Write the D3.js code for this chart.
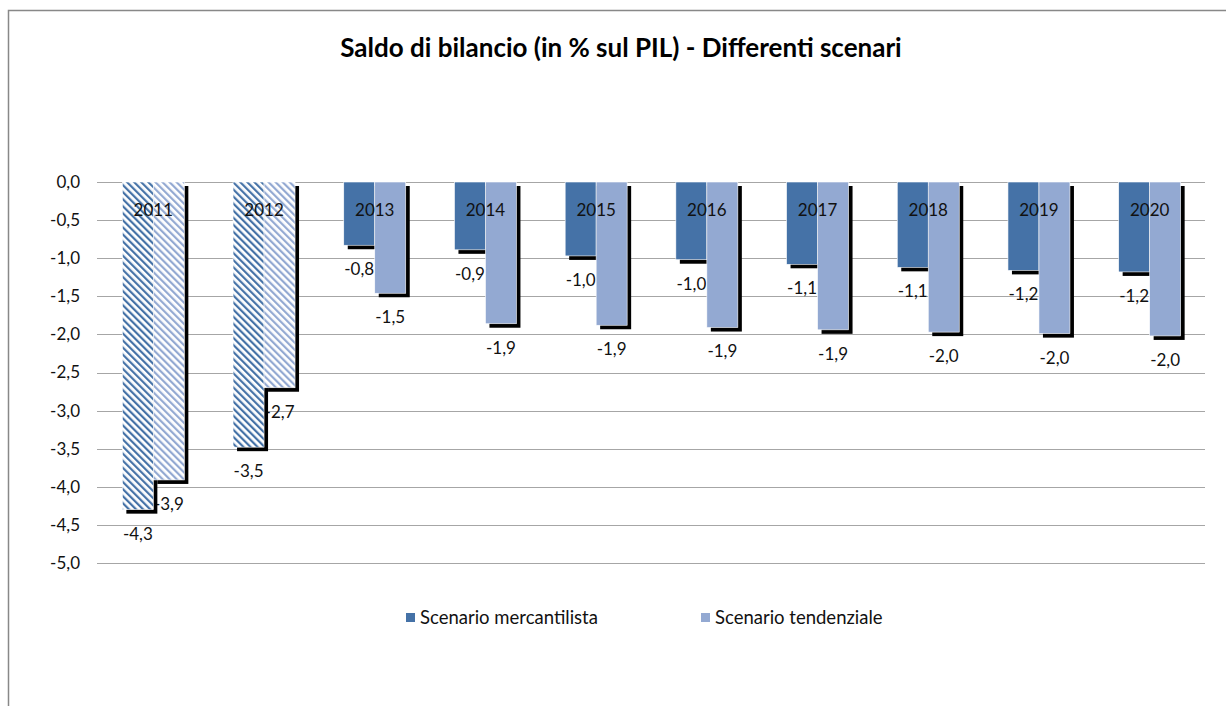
<!DOCTYPE html>
<html>
<head>
<meta charset="utf-8">
<script src="https://cdnjs.cloudflare.com/ajax/libs/d3/7.8.5/d3.min.js"></script>
<style>
  body { margin: 0; background: #fff; }
  svg { font-family: Lato, "Open Sans", sans-serif; }
</style>
</head>
<body>
<svg id="chart" width="1226" height="706"></svg>
<script>
const years = ['2011', '2012', '2013', '2014', '2015', '2016', '2017', '2018', '2019', '2020'];
const mercantilista = [-4.30, -3.48, -0.83, -0.89, -0.97, -1.02, -1.08, -1.12, -1.16, -1.18];
const tendenziale = [-3.91, -2.70, -1.46, -1.86, -1.88, -1.91, -1.94, -1.97, -1.99, -2.02];
const seriesNames = ['Scenario mercantilista', 'Scenario tendenziale'];
const hatchedYears = ['2011', '2012'];
const yTicks = [0, -0.5, -1, -1.5, -2, -2.5, -3, -3.5, -4, -4.5, -5];

const colors = ['#4572a7', '#93a9d2'];
const svg = d3.select('#chart');

// chart frame (only top and left edges are visible)
svg.append('path')
  .attr('d', 'M8.5,706 V10.5 H1226')
  .attr('fill', 'none')
  .attr('stroke', '#888')
  .attr('stroke-width', 1.5);

svg.append('text')
  .attr('x', 621)
  .attr('y', 57)
  .attr('text-anchor', 'middle')
  .attr('font-size', 26)
  .attr('font-weight', 'bold')
  .text('Saldo di bilancio (in % sul PIL) - Differenti scenari');

// hatch patterns for the first two years
const defs = svg.append('defs');
colors.forEach((c, i) => {
  const p = defs.append('pattern')
    .attr('id', 'hatch' + i)
    .attr('patternUnits', 'userSpaceOnUse')
    .attr('width', 5)
    .attr('height', 5)
    .attr('patternTransform', 'rotate(-45)');
  p.append('rect').attr('width', 5).attr('height', 5).attr('fill', '#fff');
  p.append('rect').attr('width', 2.2).attr('height', 5).attr('fill', c);
});

const x = d3.scaleBand()
  .domain(years)
  .range([98, 1205])
  .paddingInner(0.44)
  .paddingOuter(0.22);

const xSub = d3.scaleBand()
  .domain([0, 1])
  .range([0, x.bandwidth()]);

const y = d3.scaleLinear()
  .domain([-5, 0])
  .range([563, 182]);

// gridlines
svg.append('g')
  .selectAll('line')
  .data(yTicks)
  .join('line')
  .attr('x1', 97)
  .attr('x2', 1205)
  .attr('y1', d => Math.round(y(d)) + 0.5)
  .attr('y2', d => Math.round(y(d)) + 0.5)
  .attr('stroke', '#a6a6a6')
  .attr('stroke-width', 1);

const fmt = v => v.toFixed(1).replace('.', ',');

svg.append('g')
  .selectAll('text')
  .data(yTicks)
  .join('text')
  .attr('x', 80)
  .attr('y', d => y(d))
  .attr('dy', '0.35em')
  .attr('text-anchor', 'end')
  .attr('font-size', 17)
  .attr('fill', '#111')
  .text(d => fmt(d));

const seriesData = [mercantilista, tendenziale].map((vals, s) =>
  vals.map((v, i) => ({ year: years[i], value: v, s })));

// value labels
seriesData.forEach(data => {
  svg.append('g')
    .selectAll('text')
    .data(data)
    .join('text')
    .attr('x', d => x(d.year) + xSub(d.s) + xSub.bandwidth() / 2)
    .attr('y', d => y(d.value) + 24)
    .attr('dy', '0.35em')
    .attr('text-anchor', 'middle')
    .attr('font-size', 17)
    .attr('fill', '#111')
    .text(d => fmt(d.value));
});

// bars with a black drop shadow, series by series
seriesData.forEach((data, s) => {
  const g = svg.append('g');
  g.selectAll('rect.shadow')
    .data(data)
    .join('rect')
    .attr('class', 'shadow')
    .attr('x', d => x(d.year) + xSub(d.s) + 4)
    .attr('y', y(0) + 4)
    .attr('width', xSub.bandwidth())
    .attr('height', d => y(d.value) - y(0))
    .attr('fill', '#000');
  g.selectAll('rect.bar')
    .data(data)
    .join('rect')
    .attr('class', 'bar')
    .attr('x', d => x(d.year) + xSub(d.s))
    .attr('y', y(0))
    .attr('width', xSub.bandwidth())
    .attr('height', d => y(d.value) - y(0))
    .attr('fill', d => hatchedYears.includes(d.year) ? `url(#hatch${s})` : colors[s])
    .attr('stroke', '#fff')
    .attr('stroke-width', 0.6);
});

// category labels sitting inside the bars
svg.append('g')
  .selectAll('text')
  .data(years)
  .join('text')
  .attr('x', d => x(d) + x.bandwidth() / 2)
  .attr('y', 210)
  .attr('dy', '0.35em')
  .attr('text-anchor', 'middle')
  .attr('font-size', 17)
  .attr('fill', '#111')
  .text(d => d);

// legend
const legend = svg.append('g')
  .selectAll('g')
  .data(seriesNames)
  .join('g')
  .attr('transform', (d, i) => `translate(${[406, 701][i]},618)`);

legend.append('rect')
  .attr('x', 0)
  .attr('y', -5)
  .attr('width', 9)
  .attr('height', 9)
  .attr('fill', (d, i) => colors[i]);

legend.append('text')
  .attr('x', 14)
  .attr('dy', '0.35em')
  .attr('font-size', 18.5)
  .attr('fill', '#111')
  .text(d => d);
</script>
</body>
</html>
